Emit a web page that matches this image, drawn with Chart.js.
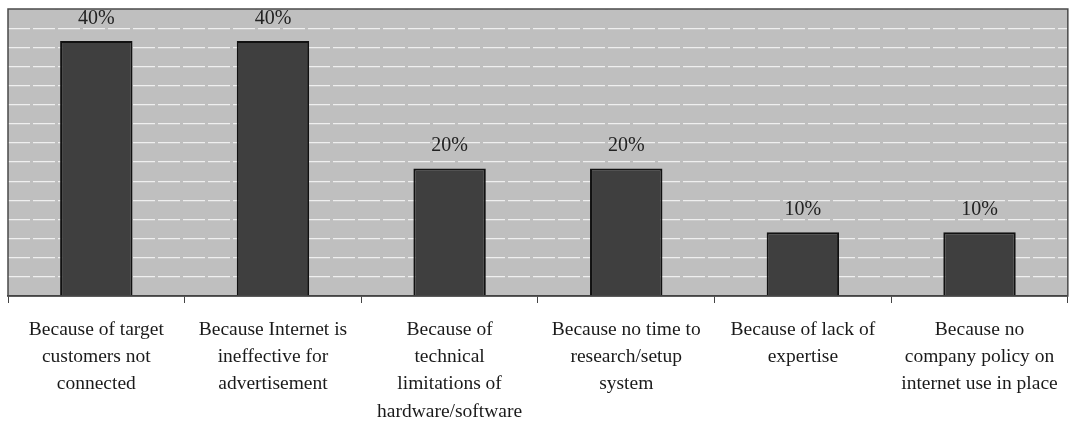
<!DOCTYPE html>
<html>
<head>
<meta charset="utf-8">
<style>
  html, body { margin: 0; padding: 0; background: #fff; }
  #wrap { width: 1071px; height: 423px; }
</style>
<script src="https://cdn.jsdelivr.net/npm/chart.js@4/dist/chart.umd.min.js"></script>
</head>
<body>
<div id="wrap"><canvas id="myChart" width="1071" height="423"></canvas></div>
<script>
var categories = [
    ["Because of target", "customers not", "connected"],
    ["Because Internet is", "ineffective for", "advertisement"],
    ["Because of", "technical", "limitations of", "hardware/software"],
    ["Because no time to", "research/setup", "system"],
    ["Because of lack of", "expertise"],
    ["Because no", "company policy on", "internet use in place"]
];
var percentages = [40, 40, 20, 20, 10, 10];
var valueLabels = ["40%", "40%", "20%", "20%", "10%", "10%"];

var serif = "'Liberation Serif', 'Times New Roman', serif";

// grey plot area with a dark frame
var plotFrame = {
    id: 'plotFrame',
    beforeDraw: function (chart) {
        var a = chart.chartArea, ctx = chart.ctx;
        ctx.save();
        ctx.fillStyle = '#bfbfbf';
        ctx.fillRect(a.left, a.top, a.right - a.left, a.bottom - a.top);
        ctx.restore();
    },
    afterDatasetsDraw: function (chart) {
        var a = chart.chartArea, ctx = chart.ctx;
        ctx.save();
        ctx.strokeStyle = '#4a4a4a';
        ctx.lineWidth = 1.5;
        ctx.strokeRect(a.left, a.top, a.right - a.left, a.bottom - a.top);
        ctx.restore();
    }
};

// value text above each bar
var barValues = {
    id: 'barValues',
    afterDatasetsDraw: function (chart) {
        var ctx = chart.ctx,
            meta = chart.getDatasetMeta(0);
        ctx.save();
        ctx.font = '20px ' + serif;
        ctx.fillStyle = '#222';
        ctx.textAlign = 'center';
        ctx.textBaseline = 'alphabetic';
        meta.data.forEach(function (bar, i) {
            ctx.fillText(valueLabels[i], bar.x, bar.y - 17);
        });
        ctx.restore();
    }
};

new Chart(document.getElementById('myChart').getContext('2d'), {
    type: 'bar',
    data: {
        labels: categories,
        datasets: [{
            data: percentages,
            backgroundColor: '#3f3f3f',
            borderColor: '#111',
            borderWidth: 2,
            categoryPercentage: 1,
            barPercentage: 0.41
        }]
    },
    options: {
        responsive: false,
        animation: false,
        layout: { padding: { left: 8, right: 3, top: 9, bottom: 0 } },
        plugins: {
            legend: { display: false },
            tooltip: { enabled: false }
        },
        scales: {
            x: {
                afterFit: function (scale) {
                    scale.height = 127;
                },
                grid: {
                    drawOnChartArea: false,
                    drawTicks: true,
                    tickLength: 7,
                    color: '#444',
                    lineWidth: 1
                },
                border: { display: true, color: '#333', width: 1.5 },
                ticks: {
                    autoSkip: false,
                    maxRotation: 0,
                    minRotation: 0,
                    padding: 13,
                    color: '#1a1a1a',
                    font: { family: serif, size: 19.5, lineHeight: 1.4 }
                }
            },
            y: {
                min: 0,
                max: 45,
                ticks: { display: false, stepSize: 3 },
                grid: {
                    drawTicks: false,
                    color: 'rgba(255,255,255,0.75)',
                    lineWidth: 1.2
                },
                border: { display: false, dash: [22, 3] }
            }
        }
    },
    plugins: [plotFrame, barValues]
});
</script>
</body>
</html>
